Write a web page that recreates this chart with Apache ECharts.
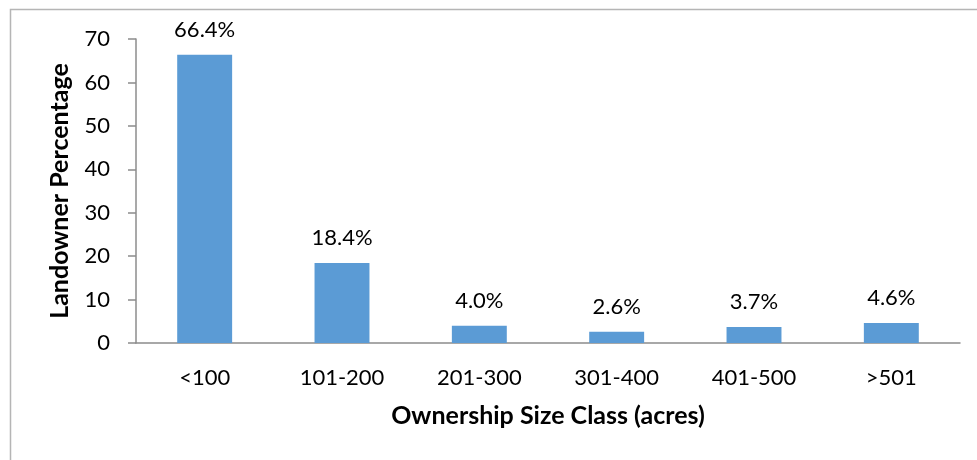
<!DOCTYPE html>
<html><head><meta charset="utf-8">
<script src="https://cdn.jsdelivr.net/npm/echarts@6/dist/echarts.min.js"></script>
<style>html,body{margin:0;padding:0;background:#fff}#c{width:977px;height:460px}</style>
</head><body><div id="c"></div>
<script>
const categories = ['<100','101-200','201-300','301-400','401-500','>501'];
const values = [66.4, 18.4, 4.0, 2.6, 3.7, 4.6];
const yTicks = [0,10,20,30,40,50,60,70];
const xName = 'Ownership Size Class (acres)';
const yName = 'Landowner Percentage';
const font = 'Lato, "Open Sans", sans-serif';
const chart = echarts.init(document.getElementById('c'), null, {renderer:'canvas'});
chart.setOption({
  animation:false,
  backgroundColor:'#fff',
  graphic:[{type:'rect',shape:{x:10.5,y:9.5,width:1000,height:500},style:{fill:'none',stroke:'#b5b5b5',lineWidth:1.5}}],
  grid:{left:136,right:17,top:39,bottom:117,containLabel:false},
  xAxis:{type:'category',data:categories,
    axisLine:{lineStyle:{color:'#8c8c8c',width:1.5}},axisTick:{show:false},
    axisLabel:{color:'#000',fontSize:22,fontFamily:font,margin:24},
    name:xName,nameLocation:'middle',nameGap:60,
    nameTextStyle:{color:'#000',fontSize:25,fontWeight:'bold',fontFamily:font}},
  yAxis:{type:'value',min:yTicks[0],max:yTicks[yTicks.length-1],interval:10,
    splitLine:{show:false},
    axisLine:{show:true,lineStyle:{color:'#8c8c8c',width:1.5}},
    axisTick:{show:true,length:8,lineStyle:{color:'#8c8c8c',width:1.5}},
    axisLabel:{color:'#000',fontSize:22,fontFamily:font,margin:26},
    name:yName,nameLocation:'middle',nameGap:64,nameRotate:90,
    nameTextStyle:{color:'#000',fontSize:25,fontWeight:'bold',fontFamily:font}},
  series:[{type:'bar',data:values,barWidth:'40%',
    itemStyle:{color:'#5b9bd5'},
    label:{show:true,position:'top',distance:14,color:'#000',fontSize:22,fontFamily:font,
      formatter:p=>p.value.toFixed(1)+'%'}}]
});
</script></body></html>
